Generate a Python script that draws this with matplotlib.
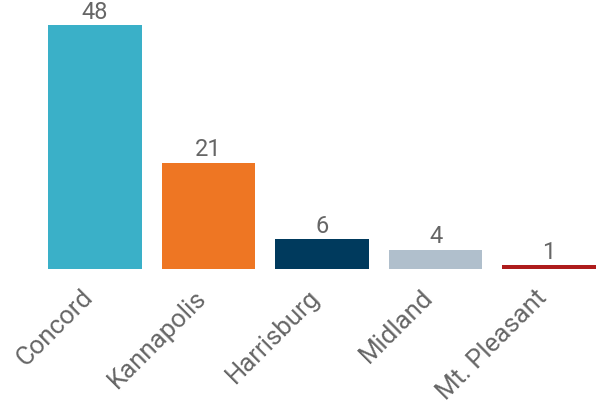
import matplotlib.pyplot as plt
from matplotlib.transforms import ScaledTranslation

cities = ["Concord", "Kannapolis", "Harrisburg", "Midland", "Mt. Pleasant"]
counts = [48, 21, 6, 4, 1]
colors = ["#3AB0C8", "#EE7623", "#003A5D", "#B0BFCC", "#AE1C1C"]

plt.rcParams['font.family'] = ['Roboto', 'DejaVu Sans']
txt_color = "#666666"

fig = plt.figure(figsize=(5.97, 4.03), dpi=100)
ax = fig.add_axes([48 / 597, 134 / 403, 548 / 597, 244 / 403])

x = range(len(cities))
bars = ax.bar(x, counts, width=0.825, color=colors)
for b, v in zip(bars, counts):
    ax.annotate(str(v), (b.get_x() + b.get_width() / 2, v),
                xytext=(0, 1), textcoords="offset points",
                ha="center", va="bottom", fontsize=17, color=txt_color)

ax.set_xlim(-0.4125, 4.4125)
ax.set_ylim(0.2, 48)
ax.set_xticks(list(x))
ax.set_xticklabels(cities, rotation=45, ha="right", va="center",
                   rotation_mode="anchor", fontsize=18.5, color=txt_color)
ax.tick_params(axis="x", length=0, pad=20)
# nudge rotated labels left/up to sit like the original
shift = ScaledTranslation(-6 / 100, 3 / 100, fig.dpi_scale_trans)
for lab in ax.get_xticklabels():
    lab.set_transform(lab.get_transform() + shift)
ax.set_yticks([])
for s in ax.spines.values():
    s.set_visible(False)

fig.savefig("out.png", dpi=100)
